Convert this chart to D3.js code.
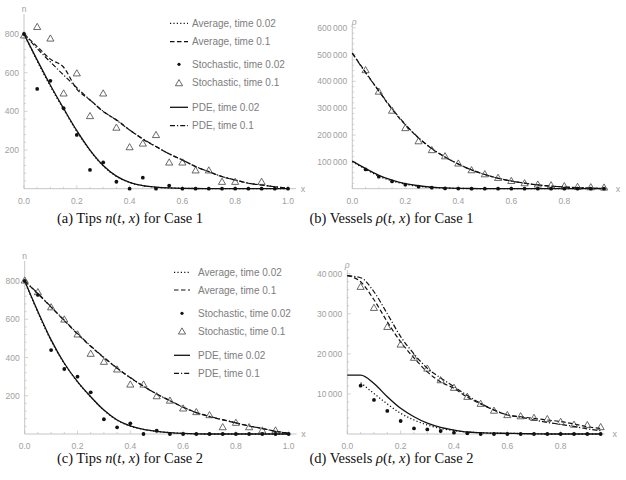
<!DOCTYPE html>
<html><head><meta charset="utf-8">
<script src="https://cdn.jsdelivr.net/npm/d3@7"></script>
<style>body{margin:0;background:#fff}svg{display:block}</style>
</head><body>
<svg id="c" width="626" height="480"></svg>
<script>
// ---------- DATA ----------
const xA = [0,0.05,0.1,0.15,0.2,0.25,0.3,0.35,0.4,0.45,0.5,0.55,0.6,0.65,0.7,0.75,0.8,0.85,0.9,0.95,1.0];
const a_avg02  = [800,660,530,410,296,197,118,64,32,16,8,4,2,1,0,0,0,0,0,0,0];
const a_avg01  = [800,735,670,628,515,459,399,356,304,256,218,180,149,114,88,62,45,28,19,10,2];
const a_sto02  = [800,516,558,416,278,97,136,36,0,57,0,16,0,0,0,0,0,0,0,0,0];
const a_sto01  = [790,834,774,490,594,373,490,313,212,231,275,133,133,92,92,33,33,null,33,null,null];
const a_pde02  = [800,665,535,415,300,200,120,65,33,16,8,4,2,1,0.5,0,0,0,0,0,0];
const a_pde01  = [800,725,655,588,522,459,401,354,304,258,218,180,148,115,88,63,45,29,19,10,2];

const xB = [0,0.05,0.1,0.15,0.2,0.25,0.3,0.35,0.4,0.45,0.5,0.55,0.6,0.65,0.7,0.75,0.8,0.85,0.9,0.95];
const b_avg02  = [101000,73000,47000,29000,17000,9000,4500,2200,1000,400,150,50,0,0,0,0,0,0,0,0];
const b_avg01  = [505000,434000,364000,296000,238000,189000,149000,118000,92000,70000,53000,39000,28600,20500,14000,9500,6200,3800,2200,1000];
const b_sto02  = [null,72000,45000,27000,15000,7500,3700,1200,500,0,0,0,0,0,0,0,0,0,0,0];
const b_sto01  = [null,440000,360000,289000,224000,175000,142000,119000,92000,67000,52000,38500,27000,18600,13700,11000,7500,5000,3700,2500];
const b_pde02  = [103000,75000,50000,32000,19000,11000,6000,3000,1500,800,400,200,100,50,0,0,0,0,0,0];
const b_pde01  = [505000,432000,365000,298000,240000,190000,150000,118000,92000,70000,53000,39000,28600,20500,14000,9500,6200,3800,2200,1000];

const xC = xA;
const c_avg02  = [800,635,488,368,272,194,124,72,41,24,14,7,3,1,0,0,0,0,0,0,0];
const c_avg01  = [800,733,663,593,523,458,399,344,294,250,209,174,140,112,91,74,58,42,29,15,4];
const c_sto02  = [800,727,439,340,300,218,77,35,56,0,17,0,0,0,0,0,0,0,0,0,0];
const c_sto01  = [800,739,660,596,518,417,375,335,256,256,195,172,131,112,96,33,56,33,16,16,null];
const c_pde02  = [800,640,492,370,274,195,125,73,42,24,14,7,3,1,0,0,0,0,0,0,0];
const c_pde01  = [800,735,665,595,525,460,401,345,295,250,209,175,140,112,92,75,58,42,28,14,3];

const xD = xB;
const d_avg02  = [null,12800,10100,7500,5150,3500,2250,1400,830,500,330,200,170,100,50,0,0,0,0,0];
const d_avg01  = [39500,38000,33500,28000,23000,19000,15500,13000,11400,9200,7500,6000,4750,4300,3900,3500,3100,2500,1800,1400];
const d_sto02  = [null,12050,8500,5750,3250,1400,1150,750,330,170,0,0,0,0,0,0,0,0,0,0];
const d_sto01  = [null,36600,31350,26600,22200,18900,16200,13300,11400,9150,7400,5700,4600,4300,3900,3600,2900,2200,2100,1600];
const d_pde02  = [14700,14700,12600,9300,6400,4300,2700,1660,1000,500,330,200,170,100,50,0,0,0,0,0];
const d_pde01  = [39500,39000,35500,30000,24300,20000,16400,14000,11800,9600,7650,6000,4750,4200,3500,2900,2400,1900,1250,830];

const xTicksA = [0,0.2,0.4,0.6,0.8,1.0];
const xTicksB = [0,0.2,0.4,0.6,0.8];
const yTicksA = [200,400,600,800];
const yTicksB = [100000,200000,300000,400000,500000,600000];
const yTicksD = [10000,20000,30000,40000];

const legendLabels = ["Average, time 0.02","Average, time 0.1","Stochastic, time 0.02","Stochastic, time 0.1","PDE, time 0.02","PDE, time 0.1"];
const captions = [
  [["(a) Tips ",""],["n","i"],["(",""],["t","i"],[", ",""],["x","i"],[") for Case 1",""]],
  [["(b) Vessels ",""],["ρ","i"],["(",""],["t","i"],[", ",""],["x","i"],[") for Case 1",""]],
  [["(c) Tips ",""],["n","i"],["(",""],["t","i"],[", ",""],["x","i"],[") for Case 2",""]],
  [["(d) Vessels ",""],["ρ","i"],["(",""],["t","i"],[", ",""],["x","i"],[") for Case 2",""]]
];

// ---------- DRAW ----------
const svg = d3.select("#c");
const AX = "#b8b8b8", TK = "#a0a0a0", LG = "#7d7d7d";
const styles = {
  avg02:{dash:"1.2,2.2", w:1.3},
  avg01:{dash:"4.5,2.5", w:1.2},
  pde02:{dash:null, w:1.3},
  pde01:{dash:"5,2,1.2,2", w:1.2}
};
const fmt = v => {
  const s = String(v);
  return s.length > 3 ? s.slice(0, s.length-3) + "\u2009" + s.slice(-3) : s;
};

function panel(cfg){
  const g = svg.append("g");
  const x = d3.scaleLinear().domain([0,1]).range(cfg.xr);
  const y = d3.scaleLinear().domain([0,cfg.ymax]).range(cfg.yr);
  // axes
  g.append("line").attr("x1",x(0)).attr("x2",x(cfg.xEnd)).attr("y1",y(0)).attr("y2",y(0)).attr("stroke",AX).attr("stroke-width",0.8);
  g.append("line").attr("x1",x(0)).attr("x2",x(0)).attr("y1",y(0)).attr("y2",cfg.yTop).attr("stroke",AX).attr("stroke-width",0.8);
  // x ticks
  const minorX = d3.range(0, cfg.xEnd+1e-9, 0.05);
  g.selectAll(null).data(minorX).enter().append("line")
    .attr("x1",d=>x(d)).attr("x2",d=>x(d)).attr("y1",y(0))
    .attr("y2",d=>y(0) - (Math.abs(d/0.2 - Math.round(d/0.2))<1e-6 ? 3.5 : 2))
    .attr("stroke",AX).attr("stroke-width",0.6);
  g.selectAll(null).data(cfg.xt).enter().append("text")
    .attr("x",d=>x(d)).attr("y",y(0)+15).attr("text-anchor","middle")
    .attr("font-family","Liberation Sans, Arial, sans-serif").attr("font-size",8.5).attr("fill",TK)
    .text(d=>d.toFixed(1));
  // y ticks
  const minorY = d3.range(cfg.ystep/5, cfg.ymax+1e-6, cfg.ystep/5);
  g.selectAll(null).data(minorY).enter().append("line")
    .attr("x1",x(0)).attr("y1",d=>y(d)).attr("y2",d=>y(d))
    .attr("x2",d=>x(0) + (Math.abs(d/cfg.ystep - Math.round(d/cfg.ystep))<1e-6 ? 3.5 : 2))
    .attr("stroke",AX).attr("stroke-width",0.6);
  g.selectAll(null).data(cfg.yt).enter().append("text")
    .attr("x",x(0)-5).attr("y",d=>y(d)+3).attr("text-anchor","end")
    .attr("font-family","Liberation Sans, Arial, sans-serif").attr("font-size",8.5).attr("fill",TK)
    .text(d=>fmt(d));
  // axis labels
  g.append("text").attr("x",x(0)+cfg.ylabDx).attr("y",cfg.yTop-2).attr("text-anchor","middle")
    .attr("font-family","Liberation Sans, Arial, sans-serif").attr("font-size",8.5).attr("fill",TK)
    .attr("font-style",cfg.ylab==="ρ"?"italic":"normal").text(cfg.ylab);
  g.append("text").attr("x",x(cfg.xEnd)+cfg.xlabDx).attr("y",y(0)+3).attr("text-anchor","middle")
    .attr("font-family","Liberation Sans, Arial, sans-serif").attr("font-size",9).attr("fill",TK).text("x");

  // lines
  const mk = (xs, ys) => xs.map((v,i)=>[v, ys[i]]);
  const line = d3.line().x(d=>x(d[0])).y(d=>y(d[1])).curve(d3.curveMonotoneX);
  [["avg02",cfg.avg02],["pde02",cfg.pde02],["avg01",cfg.avg01],["pde01",cfg.pde01]].forEach(([k,arr])=>{
    const st = styles[k];
    g.append("path").attr("d", line(mk(cfg.xs,arr).filter(d=>d[1]!==null)))
      .attr("fill","none").attr("stroke","#111").attr("stroke-width",st.w)
      .attr("stroke-dasharray",st.dash);
  });
  // markers
  const tri = d3.symbol().type(d3.symbolTriangle).size(22);
  g.selectAll(null).data(mk(cfg.xs,cfg.sto01).filter(d=>d[1]!==null)).enter().append("path")
    .attr("d",tri).attr("transform",d=>`translate(${x(d[0])},${y(d[1])})`)
    .attr("fill","none").attr("stroke","#444").attr("stroke-width",0.8);
  g.selectAll(null).data(mk(cfg.xs,cfg.sto02).filter(d=>d[1]!==null)).enter().append("circle")
    .attr("cx",d=>x(d[0])).attr("cy",d=>y(d[1])).attr("r",1.9).attr("fill","#111");

  // legend
  if (cfg.legend){
    const L = cfg.legend;
    const kinds = ["avg02","avg01","dot","tri","pde02","pde01"];
    legendLabels.forEach((lab,i)=>{
      const yy = L.rows[i];
      const k = kinds[i];
      if (k==="dot") g.append("circle").attr("cx",(L.x0+L.x1)/2).attr("cy",yy).attr("r",1.6).attr("fill","#111");
      else if (k==="tri") g.append("path").attr("d",tri).attr("transform",`translate(${(L.x0+L.x1)/2},${yy+1})`).attr("fill","none").attr("stroke","#444").attr("stroke-width",0.8);
      else g.append("line").attr("x1",L.x0).attr("x2",L.x1).attr("y1",yy).attr("y2",yy)
        .attr("stroke","#111").attr("stroke-width",styles[k].w).attr("stroke-dasharray",styles[k].dash);
      g.append("text").attr("x",L.tx).attr("y",yy+3.5)
        .attr("font-family","Liberation Sans, Arial, sans-serif").attr("font-size",10).attr("fill",LG).text(lab);
    });
  }
  // caption
  const t = svg.append("text").attr("x",cfg.capX).attr("y",cfg.capY).attr("text-anchor","middle")
    .attr("font-family","Liberation Serif, 'DejaVu Serif', serif").attr("font-size",14.5).attr("fill","#111");
  cfg.caption.forEach(([s,st])=>{ t.append("tspan").attr("font-style",st==="i"?"italic":"normal").text(s); });
}

panel({xs:xA, xr:[24,288], yr:[188.7,34], ymax:800, ystep:200, xEnd:1.03, yTop:14, xt:xTicksA, yt:yTicksA,
  avg02:a_avg02, avg01:a_avg01, sto02:a_sto02, sto01:a_sto01, pde02:a_pde02, pde01:a_pde01,
  ylab:"n", ylabDx:0, xlabDx:7,
  legend:{x0:170, x1:188, tx:192, rows:[23.3,41.7,64.3,82.7,107.3,125.7]},
  capX:130, capY:223, caption:captions[0]});
panel({xs:xB, xr:[352.3,617.3], yr:[188.7,27.7], ymax:600000, ystep:100000, xEnd:0.965, yTop:27, xt:xTicksB, yt:yTicksB,
  avg02:b_avg02, avg01:b_avg01, sto02:b_sto02, sto01:b_sto01, pde02:b_pde02, pde01:b_pde01,
  ylab:"ρ", ylabDx:2, xlabDx:10,
  legend:null, capX:391.5, capY:223, caption:captions[1]});
panel({xs:xC, xr:[24.7,288.7], yr:[434,281], ymax:800, ystep:200, xEnd:1.03, yTop:261, xt:xTicksA, yt:yTicksA,
  avg02:c_avg02, avg01:c_avg01, sto02:c_sto02, sto01:c_sto01, pde02:c_pde02, pde01:c_pde01,
  ylab:"n", ylabDx:0, xlabDx:7,
  legend:{x0:174, x1:190, tx:198, rows:[272.3,290,313.3,331,355.3,373.3]},
  capX:130, capY:463, caption:captions[2]});
panel({xs:xD, xr:[347.3,614], yr:[434,273.7], ymax:40000, ystep:10000, xEnd:0.965, yTop:270, xt:xTicksB, yt:yTicksD,
  avg02:d_avg02, avg01:d_avg01, sto02:d_sto02, sto01:d_sto01, pde02:d_pde02, pde01:d_pde01,
  ylab:"ρ", ylabDx:0, xlabDx:10,
  legend:null, capX:391.5, capY:463, caption:captions[3]});
</script>
</body></html>
